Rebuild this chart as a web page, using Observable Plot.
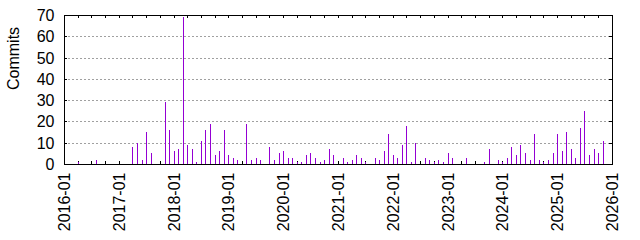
<!DOCTYPE html>
<html>
<head>
<meta charset="utf-8">
<script src="https://cdn.jsdelivr.net/npm/d3@7"></script>
<script src="https://cdn.jsdelivr.net/npm/@observablehq/plot@0.6"></script>
<style>
  html, body { margin: 0; padding: 0; background: #ffffff; }
  #chart svg { display: block; }
</style>
</head>
<body>
<div id="chart"></div>
<script>
// Monthly commit counts (months with no commits are omitted)
const months = [
  "2016-04", "2016-08",
  "2017-04", "2017-05", "2017-06", "2017-07", "2017-08", "2017-11", "2017-12",
  "2018-01", "2018-02", "2018-03", "2018-04", "2018-05", "2018-06", "2018-07", "2018-08", "2018-09", "2018-10", "2018-11", "2018-12",
  "2019-01", "2019-02", "2019-03", "2019-05", "2019-06", "2019-07", "2019-08", "2019-10", "2019-11", "2019-12",
  "2020-01", "2020-02", "2020-03", "2020-04", "2020-05", "2020-06", "2020-07", "2020-08", "2020-09", "2020-10", "2020-11", "2020-12",
  "2021-02", "2021-03", "2021-04", "2021-05", "2021-06", "2021-07", "2021-09", "2021-10", "2021-11", "2021-12",
  "2022-01", "2022-02", "2022-03", "2022-04", "2022-05", "2022-06", "2022-08", "2022-09", "2022-10", "2022-11", "2022-12",
  "2023-01", "2023-02", "2023-05", "2023-09", "2023-10", "2023-12",
  "2024-01", "2024-02", "2024-03", "2024-04", "2024-05", "2024-06", "2024-07", "2024-08", "2024-09", "2024-10", "2024-11", "2024-12",
  "2025-01", "2025-02", "2025-03", "2025-04", "2025-05", "2025-06", "2025-07", "2025-08", "2025-09", "2025-10", "2025-11"
];
const commits = [
  1, 2,
  8, 10, 2, 15, 5, 29, 16,
  6, 7, 69, 9, 7, 1, 11, 16, 19, 4, 6, 16,
  4, 3, 2, 19, 2, 3, 2, 8, 2, 5,
  6, 3, 3, 1, 1, 4, 5, 3, 1, 2, 7, 4,
  3, 1, 2, 4, 3, 1, 3, 2, 6, 14,
  4, 3, 9, 18, 1, 10, 3, 2, 1, 2, 1,
  5, 3, 3, 1, 7, 2,
  1, 3, 8, 4, 9, 5, 2, 14, 2, 1, 2, 5,
  14, 6, 15, 7, 3, 17, 25, 4, 7, 5, 11
];
const yTicks = [0, 10, 20, 30, 40, 50, 60, 70];
const yGrid = [10, 20, 30, 40, 50, 60];
const xTickLabels = ["2016-01", "2017-01", "2018-01", "2019-01", "2020-01", "2021-01",
                     "2022-01", "2023-01", "2024-01", "2025-01", "2026-01"];
const xDomain = ["2016-01", "2026-01"];
const yLabel = ["Commits"];

const parse = d3.utcParse("%Y-%m");
const data = months.map((m, i) => ({date: parse(m), value: commits[i]}));
const xStart = parse(xDomain[0]);
const xEnd = parse(xDomain[1]);
const yearTicks = xTickLabels.map(parse);
const quarterTicks = d3.utcMonth.every(3).range(xStart, d3.utcDay.offset(xEnd, 1));

const W = 640, H = 240;
const mL = 64, mR = 28, mT = 15, mB = 76;
const fw = W - mL - mR, fh = H - mT - mB;
const tickLen = 3;
const font = "'Liberation Sans', Arial, Helvetica, sans-serif";

const chart = Plot.plot({
  width: W,
  height: H,
  marginLeft: mL,
  marginRight: mR,
  marginTop: mT,
  marginBottom: mB,
  style: {fontFamily: font, fontSize: "16px", color: "#000", background: "#fff"},
  x: {type: "utc", domain: [xStart, xEnd], round: true},
  y: {domain: [0, 70], round: true},
  marks: [
    Plot.gridY(yGrid, {stroke: "#a0a0a0", strokeOpacity: 1, strokeDasharray: "2,2"}),
    // inward tick marks
    Plot.tickX(quarterTicks, {x: d => d, stroke: "#000", insetTop: fh - tickLen}),
    Plot.tickX(quarterTicks, {x: d => d, stroke: "#000", insetBottom: fh - tickLen}),
    Plot.tickY(yTicks, {y: d => d, stroke: "#000", insetRight: fw - tickLen}),
    Plot.tickY(yTicks, {y: d => d, stroke: "#000", insetLeft: fw - tickLen}),
    Plot.ruleX(data, {x: "date", y1: 0, y2: "value", stroke: "#9400d3", strokeWidth: 1}),
    Plot.frame({stroke: "#000", strokeWidth: 1}),
    Plot.axisY({ticks: yTicks, tickSize: 0, tickPadding: 10, label: null, fontSize: 16, fill: "#000"}),
    Plot.axisX({ticks: yearTicks, tickFormat: d3.utcFormat("%Y-%m"), tickRotate: -90, tickSize: 0, tickPadding: 8, label: null, fontSize: 16, fill: "#000"}),
    Plot.text(yLabel, {text: d => d, frameAnchor: "left", dx: -51, rotate: -90, fontSize: 16, fill: "#000"})
  ]
});

document.getElementById("chart").appendChild(chart);
</script>
</body>
</html>
